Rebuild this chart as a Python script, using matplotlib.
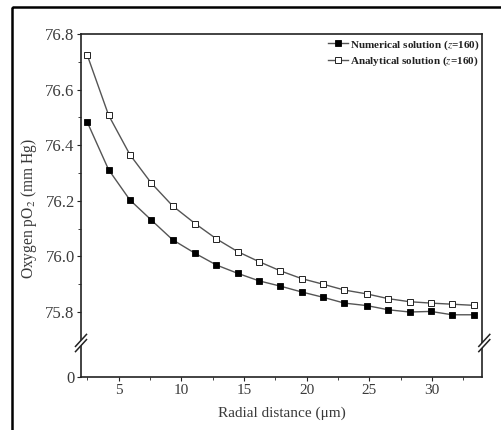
import matplotlib
matplotlib.use("Agg")
import matplotlib.pyplot as plt
from matplotlib.lines import Line2D
from matplotlib.patches import Rectangle, Polygon
import numpy as np

# ---- data ----
radial_distance = [2.5, 4.2, 5.9, 7.6, 9.3, 11.1, 12.8, 14.5, 16.2, 17.9,
                   19.6, 21.3, 23.0, 24.8, 26.5, 28.2, 29.9, 31.6, 33.3]
numerical = [76.483, 76.312, 76.203, 76.131, 76.060, 76.011, 75.969, 75.939, 75.912, 75.893,
             75.872, 75.853, 75.832, 75.823, 75.808, 75.800, 75.802, 75.790, 75.790]
analytical = [76.724, 76.508, 76.366, 76.264, 76.182, 76.118, 76.063, 76.017, 75.981, 75.948,
              75.920, 75.900, 75.879, 75.865, 75.848, 75.837, 75.832, 75.828, 75.824]
label_num = "Numerical solution ($z$=160)"
label_ana = "Analytical solution ($z$=160)"
x_ticks = [5, 10, 15, 20, 25, 30]
y_ticks_upper = [75.8, 76.0, 76.2, 76.4, 76.6, 76.8]
y_ticks_lower = [0]

plt.rcParams['font.family'] = ['Liberation Serif', 'DejaVu Serif']
plt.rcParams['mathtext.fontset'] = 'stix'

W, H = 501, 430
fig = plt.figure(figsize=(W / 100, H / 100), dpi=100)
fig.patch.set_facecolor('white')

L, R, T, B, BRK = 81, 482.3, 34, 377.3, 343
textc = '#3a3a3a'
spinec = '#222222'

def fr(x0, y0, x1, y1):
    return [x0 / W, 1 - y1 / H, (x1 - x0) / W, (y1 - y0) / H]

ax_u = fig.add_axes(fr(L, T, R, BRK))
ax_l = fig.add_axes(fr(L, BRK, R, B), sharex=ax_u)

for ax in (ax_u, ax_l):
    ax.set_xlim(2, 34)
    for s in ax.spines.values():
        s.set_color(spinec)
        s.set_linewidth(1.2)
    ax.tick_params(direction='out', length=3, width=0.8, colors=spinec,
                   labelsize=12, labelcolor=textc, pad=1.5)
    ax.tick_params(which='minor', direction='out', length=2, width=0.6, colors=spinec)

ax_u.spines['bottom'].set_visible(False)
ax_l.spines['top'].set_visible(False)
ax_u.set_ylim(76.8 - (BRK - T) / 278.0, 76.8)
ax_u.set_yticks(y_ticks_upper)
ax_u.set_yticklabels([f"{v:.1f}" for v in y_ticks_upper])
ax_u.set_yticks([75.9, 76.1, 76.3, 76.5, 76.7], minor=True)
ax_u.tick_params(axis='x', which='both', bottom=False, labelbottom=False)

ax_l.set_ylim(0, 1)
ax_l.set_yticks(y_ticks_lower)
ax_l.set_yticklabels(["0"])
ax_l.set_xticks(x_ticks)
ax_l.set_xticks([2.5, 7.5, 12.5, 17.5, 22.5, 27.5, 32.5], minor=True)
ax_l.tick_params(axis='x', labelsize=11)

line_c = '#555555'
ax_u.plot(radial_distance, numerical, '-', color=line_c, lw=1.0,
          marker='s', ms=4, mfc='black', mec='black', mew=0.6, label=label_num)
ax_u.plot(radial_distance, analytical, '-', color=line_c, lw=1.0,
          marker='s', ms=4, mfc='white', mec='#222222', mew=0.7, label=label_ana)

leg = fig.legend(loc='upper right', bbox_to_anchor=(480 / W, 1 - 38 / H),
                 frameon=False, prop={'weight': 'bold', 'size': 8},
                 handlelength=1.8, handletextpad=0.2, labelspacing=0.3,
                 borderaxespad=0, borderpad=0)
for t in leg.get_texts():
    t.set_color('#222222')

ax_l.set_xlabel("Radial distance (μm)", fontsize=11, color=textc, labelpad=7)
fig.text(29 / W, 1 - 209 / H, "Oxygen pO$_2$ (mm Hg)", rotation=90,
         fontsize=11.2, color=textc, ha='center', va='center')

# overlay for break marks and frame
ov = fig.add_axes([0, 0, 1, 1], zorder=10)
ov.set_xlim(0, W)
ov.set_ylim(H, 0)
ov.axis('off')
ov.patch.set_alpha(0)
for xc in (L, R + 2):
    dx, dy = 5.5, 6.0
    gap = 2.6
    poly = Polygon([(xc - dx, BRK + dy - gap), (xc + dx, BRK - dy - gap),
                    (xc + dx, BRK - dy + gap), (xc - dx, BRK + dy + gap)],
                   closed=True, facecolor='white', edgecolor='none')
    ov.add_patch(poly)
    for off in (-gap, gap):
        ov.add_line(Line2D([xc - dx, xc + dx], [BRK + dy + off, BRK - dy + off],
                           color=spinec, lw=1.1))
ov.add_patch(Rectangle((12.5, 6.5), 600, 600, fill=False, edgecolor='black', lw=1.8))

fig.savefig('out.png', dpi=100)
